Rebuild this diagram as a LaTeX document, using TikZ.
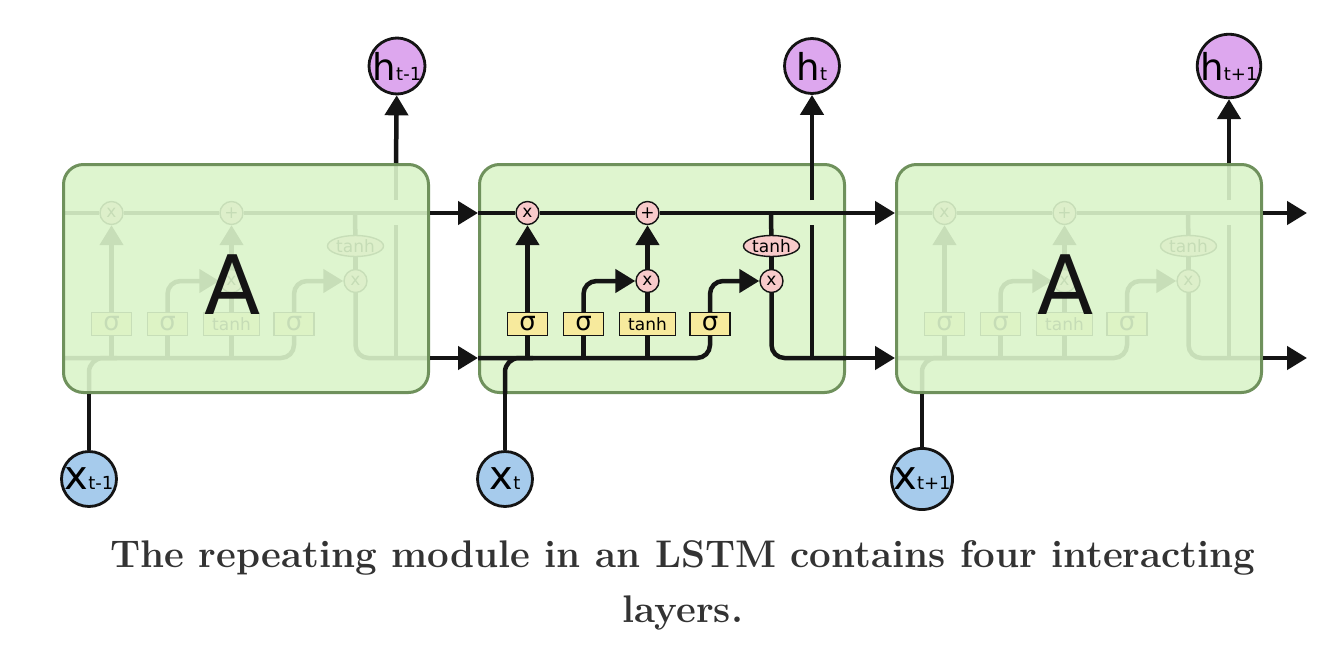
\documentclass[tikz,border=0pt]{standalone}
\usepackage{fontspec}
\newfontfamily\dvs{DejaVu Sans}
\usetikzlibrary{arrows.meta,shapes.geometric}
\definecolor{boxfill}{RGB}{223,245,207}
\definecolor{boxover}{RGB}{219,244,202}
\definecolor{boxline}{RGB}{111,145,92}
\definecolor{gatefill}{RGB}{247,234,157}
\definecolor{opfill}{RGB}{248,202,202}
\definecolor{hfill}{RGB}{221,167,238}
\definecolor{xfill}{RGB}{166,203,236}
\definecolor{captext}{RGB}{51,51,51}
\definecolor{ink}{RGB}{20,20,20}
\newcommand\hbigf{\dvs\fontsize{37}{37}\selectfont}
\newcommand\xbigf{\dvs\fontsize{40}{40}\selectfont}
\newcommand\subf{\dvs\fontsize{18}{18}\selectfont}
\tikzset{
  wire/.style={line width=4.5pt, draw=ink},
  arr/.style={wire, -{Triangle[length=20pt,width=23pt]}},
  opnode/.style={circle, draw=ink, line width=1.4pt, fill=opfill, minimum size=23pt, inner sep=0pt, font=\dvs\fontsize{17}{17}\selectfont},
  gate/.style={rectangle, draw=ink, line width=1.4pt, fill=gatefill, minimum height=23pt, inner sep=0pt},
  sig/.style={gate, minimum width=40pt, font=\dvs\fontsize{26}{26}\selectfont},
  tgate/.style={gate, minimum width=56pt, font=\dvs\fontsize{17}{17}\selectfont},
  thnode/.style={ellipse, draw=ink, line width=1.4pt, fill=opfill, minimum width=56pt, minimum height=21pt, inner sep=0pt, font=\dvs\fontsize{17}{17}\selectfont},
  cellbox/.style={rectangle, rounded corners=20pt, draw=boxline, line width=3pt, minimum width=365pt, minimum height=228pt, inner sep=0pt},
  ionode/.style={circle, draw=ink, line width=2.8pt, minimum size=55pt, inner sep=0pt},
  hnode/.style={ionode, fill=hfill},
  xnode/.style={ionode, fill=xfill},
  bigA/.style={font=\dvs\fontsize{82}{82}\selectfont, text=ink, inner sep=0pt},
  captionline/.style={font=\fontsize{38.5}{46}\selectfont\bfseries, text=captext, inner sep=0pt},
}
% #1 = left x of the module, #2 = name prefix
\newcommand\lstmparts[2]{%
  \begin{scope}[shift={(#1,0)}]
    \coordinate (#2cin) at (0,213);
    \coordinate (#2cout) at (368,213);
    \coordinate (#2ct) at (293,213);
    \coordinate (#2hin) at (0,358);
    \coordinate (#2hout) at (368,358);
    \coordinate (#2hj) at (334,358);
    \coordinate (#2hga) at (334,225);
    \coordinate (#2hgb) at (334,200);
    \coordinate (#2htop) at (334,163);
    \coordinate (#2xin) at (27,394);
    \coordinate (#2xm) at (55,358);
    \node[opnode] (#2xf) at (49.5,213) {x};
    \node[opnode] (#2pl) at (169.5,213) {+};
    \node[opnode] (#2xi) at (169.5,281) {x};
    \node[opnode] (#2xo) at (293.5,281) {x};
    \node[thnode] (#2th) at (293.5,246) {tanh};
    \node[sig] (#2sf) at (49.5,324) {σ};
    \node[sig] (#2si) at (105.5,324) {σ};
    \node[tgate] (#2tg) at (169.5,324) {tanh};
    \node[sig] (#2so) at (232,324) {σ};
  \end{scope}
  \draw[wire] (#2cin) -- (#2xf) -- (#2pl) -- (#2cout);
  \draw[wire, rounded corners=13pt] (#2hin) -| (#2so);
  \draw[wire, rounded corners=14pt] (#2xin) |- (#2xm);
  \draw[wire] (#2sf) -- (#2sf |- #2hin);
  \draw[wire] (#2si) -- (#2si |- #2hin);
  \draw[wire] (#2tg) -- (#2tg |- #2hin);
  \draw[arr] (#2sf) -- (#2xf);
  \draw[arr, rounded corners=13pt] (#2si) |- (#2xi);
  \draw[wire] (#2tg) -- (#2xi);
  \draw[arr] (#2xi) -- (#2pl);
  \draw[arr, rounded corners=13pt] (#2so) |- (#2xo);
  \draw[wire] (#2ct) -- (#2th);
  \draw[wire] (#2th) -- (#2xo);
  \draw[wire, rounded corners=13pt] (#2xo) |- (#2hout);
  \draw[wire] (#2hj) -- (#2hga);
  \draw[wire] (#2hgb) -- (#2htop);
}
\begin{document}
\begin{tikzpicture}[x=1pt, y=-1pt]
  \useasboundingbox (0,0) rectangle (1344,645);
  \fill[white] (0,0) rectangle (1344,645);

  % left module (faded)
  \lstmparts{62}{L}
  \node[cellbox, fill=boxover, fill opacity=0.9, draw opacity=1] (Lbox) at (246,278.5) {};
  \node[bigA] (LA) at (233,285) {A};

  % right module (faded)
  \lstmparts{895}{R}
  \node[cellbox, fill=boxover, fill opacity=0.9, draw opacity=1] (Rbox) at (1079,278.5) {};
  \node[bigA] (RA) at (1066,285) {A};

  % middle module
  \node[cellbox, fill=boxfill] (Mbox) at (662,278.5) {};
  \lstmparts{478}{M}

  % inputs and outputs
  \node[hnode] (hL) at (397,66) {{\hbigf h}{\subf t-1}};
  \node[hnode] (hM) at (812,66) {{\hbigf h}{\subf t}};
  \node[hnode] (hR) at (1229,66) {{\hbigf h}{\subf t+1}};
  \node[xnode] (xL) at (89,479) {{\xbigf x}{\subf t-1}};
  \node[xnode] (xM) at (505,479) {{\xbigf x}{\subf t}};
  \node[xnode] (xR) at (922,479) {{\xbigf x}{\subf t+1}};

  \draw[arr] (Lhtop) -- (hL);
  \draw[arr] (Mhtop) -- (hM);
  \draw[arr] (Rhtop) -- (hR);
  \draw[wire] (xL) -- (Lxin);
  \draw[wire] (xM) -- (Mxin);
  \draw[wire] (xR) -- (Rxin);

  \coordinate (Rcend) at (1307,213);
  \coordinate (Rhend) at (1307,358);
  \draw[arr] (Lcout) -- (Mcin);
  \draw[arr] (Lhout) -- (Mhin);
  \draw[arr] (Mcout) -- (Rcin);
  \draw[arr] (Mhout) -- (Rhin);
  \draw[arr] (Rcout) -- (Rcend);
  \draw[arr] (Rhout) -- (Rhend);

  % caption
  \node[captionline, anchor=base] (cap1) at (683,567) {The repeating module in an LSTM contains four interacting};
  \node[captionline, anchor=base] (cap2) at (683,622) {layers.};
\end{tikzpicture}
\end{document}
